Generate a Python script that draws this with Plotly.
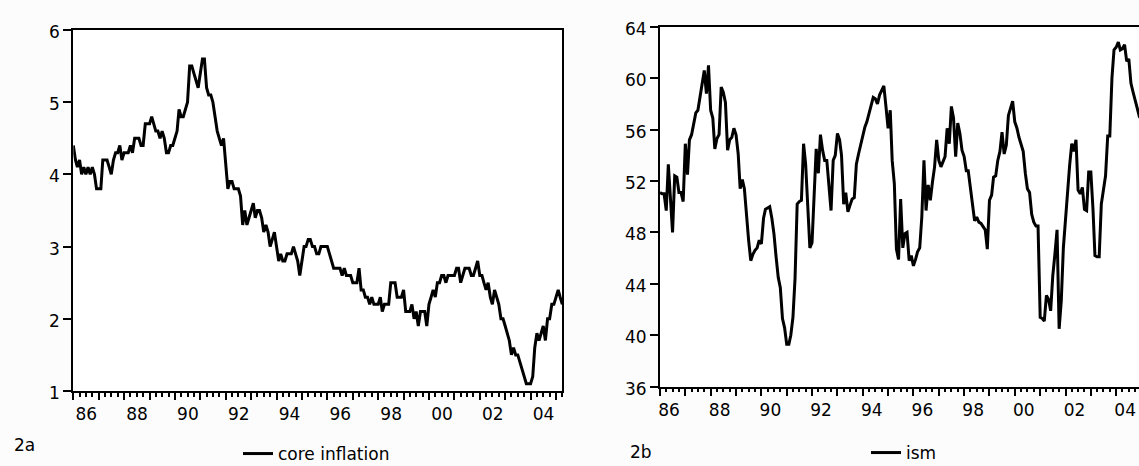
import pandas as pd
import plotly.graph_objects as go

# ---------------- data (monthly, starting 1986:01) ----------------
core_inflation = [
    4.4, 4.2, 4.1, 4.2, 4.0, 4.1, 4.0, 4.1, 4.0, 4.1, 4.0, 3.8,   # 1986
    3.8, 3.8, 4.2, 4.2, 4.2, 4.1, 4.0, 4.2, 4.3, 4.3, 4.4, 4.2,   # 1987
    4.3, 4.3, 4.3, 4.4, 4.3, 4.5, 4.5, 4.5, 4.4, 4.4, 4.7, 4.7,   # 1988
    4.7, 4.8, 4.7, 4.6, 4.6, 4.5, 4.6, 4.5, 4.3, 4.3, 4.4, 4.4,   # 1989
    4.5, 4.6, 4.9, 4.8, 4.8, 4.9, 5.0, 5.5, 5.5, 5.4, 5.3, 5.2,   # 1990
    5.4, 5.6, 5.6, 5.2, 5.1, 5.1, 5.0, 4.8, 4.6, 4.5, 4.4, 4.5,   # 1991
    4.1, 3.8, 3.9, 3.9, 3.8, 3.8, 3.8, 3.7, 3.3, 3.5, 3.3, 3.4,   # 1992
    3.5, 3.6, 3.4, 3.5, 3.5, 3.4, 3.2, 3.3, 3.2, 3.0, 3.1, 3.2,   # 1993
    3.0, 2.8, 2.9, 2.8, 2.8, 2.9, 2.9, 2.9, 3.0, 2.9, 2.8, 2.6,   # 1994
    2.8, 3.0, 3.0, 3.1, 3.1, 3.0, 3.0, 2.9, 2.9, 3.0, 3.0, 3.0,   # 1995
    3.0, 2.9, 2.8, 2.7, 2.7, 2.7, 2.7, 2.6, 2.7, 2.6, 2.6, 2.6,   # 1996
    2.5, 2.5, 2.5, 2.7, 2.4, 2.4, 2.3, 2.3, 2.2, 2.3, 2.2, 2.2,   # 1997
    2.2, 2.3, 2.1, 2.2, 2.2, 2.2, 2.5, 2.5, 2.5, 2.3, 2.3, 2.3,   # 1998
    2.4, 2.1, 2.1, 2.1, 2.2, 2.0, 2.1, 1.9, 2.1, 2.1, 2.1, 1.9,   # 1999
    2.2, 2.3, 2.4, 2.3, 2.5, 2.5, 2.6, 2.6, 2.5, 2.6, 2.6, 2.6,   # 2000
    2.6, 2.7, 2.7, 2.5, 2.6, 2.7, 2.7, 2.7, 2.6, 2.6, 2.7, 2.8,   # 2001
    2.6, 2.6, 2.5, 2.4, 2.5, 2.3, 2.2, 2.4, 2.3, 2.2, 2.0, 2.0,   # 2002
    1.9, 1.8, 1.7, 1.5, 1.6, 1.5, 1.5, 1.4, 1.3, 1.2, 1.1, 1.1,   # 2003
    1.1, 1.2, 1.6, 1.8, 1.7, 1.8, 1.9, 1.7, 2.0, 2.0, 2.2, 2.2,   # 2004
    2.3, 2.4, 2.3, 2.2,                                           # 2005
]

ism = [
    51.1, 51.0, 51.0, 49.7, 53.3, 51.0, 48.0, 52.4, 52.3, 51.1, 51.1, 50.4,   # 1986
    54.9, 52.5, 55.2, 55.6, 56.5, 57.3, 57.5, 58.5, 59.7, 60.6, 58.8, 61.0,   # 1987
    57.5, 56.9, 54.5, 55.3, 55.6, 59.3, 58.9, 58.1, 54.4, 55.2, 55.4, 56.1,   # 1988
    55.6, 54.1, 51.4, 52.1, 51.4, 49.2, 47.4, 45.8, 46.3, 46.6, 46.8, 47.4,   # 1989
    47.1, 49.1, 49.8, 49.9, 50.0, 49.1, 47.9, 46.1, 44.5, 43.7, 41.3, 40.6,   # 1990
    39.3, 39.3, 40.0, 41.4, 44.4, 50.2, 50.4, 50.5, 54.9, 53.3, 49.5, 46.8,   # 1991
    47.2, 51.5, 54.5, 52.6, 55.6, 54.4, 53.6, 53.6, 51.8, 49.7, 53.6, 54.0,   # 1992
    55.7, 55.2, 54.0, 50.2, 51.1, 49.6, 50.1, 50.6, 50.7, 53.3, 54.1, 54.8,   # 1993
    55.7, 56.2, 56.6, 57.3, 58.0, 58.5, 58.4, 58.0, 58.7, 59.1, 59.4, 57.8,   # 1994
    56.1, 57.5, 53.6, 51.8, 46.7, 45.9, 50.6, 46.8, 47.9, 48.0, 45.8, 46.2,   # 1995
    45.4, 45.9, 46.5, 46.8, 49.2, 53.6, 49.7, 51.7, 50.5, 51.9, 53.1, 55.2,   # 1996
    53.6, 53.1, 53.5, 53.9, 56.1, 54.9, 57.8, 56.9, 53.9, 56.5, 55.7, 54.4,   # 1997
    53.9, 52.8, 52.8, 51.5, 50.1, 48.9, 49.2, 48.8, 48.7, 48.5, 48.2, 46.7,   # 1998
    50.5, 50.9, 52.3, 52.4, 53.6, 54.3, 55.8, 54.1, 54.8, 57.1, 57.6, 58.2,   # 1999
    56.6, 56.1, 55.4, 54.8, 54.3, 52.6, 51.4, 51.1, 49.4, 48.8, 48.5, 48.5,   # 2000
    41.4, 41.3, 41.1, 43.1, 42.8, 41.9, 44.6, 46.3, 48.2, 40.5, 42.7, 46.8,   # 2001
    49.2, 51.3, 53.2, 54.9, 54.3, 55.2, 51.3, 51.0, 51.5, 49.8, 49.7, 52.7,   # 2002
    52.7, 49.8, 46.2, 46.1, 46.1, 50.2, 51.3, 52.4, 55.5, 55.5, 60.0, 62.2,   # 2003
    62.4, 62.8, 62.2, 62.3, 62.6, 61.3, 61.5, 59.6, 58.9, 58.3, 57.6, 57.0,   # 2004
    56.8,                                                                     # 2005
]

start = "1986-01-01"
core_dates = pd.date_range(start, periods=len(core_inflation), freq="MS")
ism_dates = pd.date_range(start, periods=len(ism), freq="MS")

years = list(range(1986, 2006))
year_ticks = [f"{y}-01-01" for y in years]
year_labels = [f"{y % 100:02d}" if (y % 2 == 0 and y < 2005) else "" for y in years]

core_y_ticks = [1, 2, 3, 4, 5, 6]
ism_y_ticks = [36, 40, 44, 48, 52, 56, 60, 64]

# ---------------- figure ----------------
W, H = 1139, 466
FONT = "DejaVu Sans"
fig = go.Figure()

fig.add_trace(go.Scatter(
    x=core_dates, y=core_inflation, mode="lines", name="core inflation",
    line=dict(color="black", width=3), xaxis="x", yaxis="y",
    legend="legend", showlegend=True,
))
fig.add_trace(go.Scatter(
    x=ism_dates, y=ism, mode="lines", name="ism",
    line=dict(color="black", width=3), xaxis="x2", yaxis="y2",
    legend="legend2", showlegend=True,
))

def xaxis_style(domain, rng, shift):
    return dict(
        domain=domain, type="date", range=rng,
        showline=True, linecolor="black", linewidth=2, mirror=True,
        showgrid=False, zeroline=False,
        tickmode="array", tickvals=year_ticks, ticktext=year_labels,
        ticks="outside", ticklen=7, tickwidth=1.5, tickcolor="black",
        ticklabelshift=shift, ticklabeloverflow="allow",
        minor=dict(ticks="outside", ticklen=3.5, tickwidth=1.5, tickcolor="black",
                   dtick="M3", tick0=start, showgrid=False),
        tickfont=dict(family=FONT, size=17, color="black"),
    )

def yaxis_style(domain, rng, ticks, anchor, mirror):
    return dict(
        domain=domain, range=rng, anchor=anchor,
        showline=True, linecolor="black", linewidth=2, mirror=mirror,
        showgrid=False, zeroline=False,
        tickmode="array", tickvals=ticks,
        ticks="outside", ticklen=8, tickwidth=1.5, tickcolor="black",
        ticklabelshift=2,
        tickfont=dict(family=FONT, size=17, color="black"),
    )

fig.update_layout(
    width=W, height=H, autosize=False, showlegend=True,
    margin=dict(l=0, r=0, t=0, b=0, pad=0, autoexpand=False),
    paper_bgcolor="#fcfcfc", plot_bgcolor="white",
    xaxis=dict(**xaxis_style([73.3 / W, 562.3 / W], [start, "2005-04-01"], 13), anchor="y"),
    yaxis=yaxis_style([75 / H, 436 / H], [1, 6], core_y_ticks, "x", True),
    xaxis2=dict(**xaxis_style([660 / W, 1.0], [start, "2004-11-25"], 9), anchor="y2"),
    yaxis2=yaxis_style([79.3 / H, 439.3 / H], [36, 64], ism_y_ticks, "x2", False),
    legend=dict(x=238 / W, y=12 / H, xanchor="left", yanchor="middle",
                bgcolor="rgba(0,0,0,0)", borderwidth=0, itemwidth=30,
                font=dict(family=FONT, size=17, color="black")),
    legend2=dict(x=866 / W, y=13 / H, xanchor="left", yanchor="middle",
                 bgcolor="rgba(0,0,0,0)", borderwidth=0, itemwidth=30,
                 font=dict(family=FONT, size=17, color="black")),
    annotations=[
        dict(text="2a", x=12 / W, y=21 / H, xref="paper", yref="paper",
             xanchor="left", yanchor="middle", showarrow=False,
             font=dict(family=FONT, size=17, color="black")),
        dict(text="2b", x=628 / W, y=14 / H, xref="paper", yref="paper",
             xanchor="left", yanchor="middle", showarrow=False,
             font=dict(family=FONT, size=17, color="black")),
    ],
)

fig.write_html(
    "out.html",
    config={"displayModeBar": False},
    post_script="document.body.style.margin='0px';"
                "document.documentElement.style.overflow='hidden';",
)
